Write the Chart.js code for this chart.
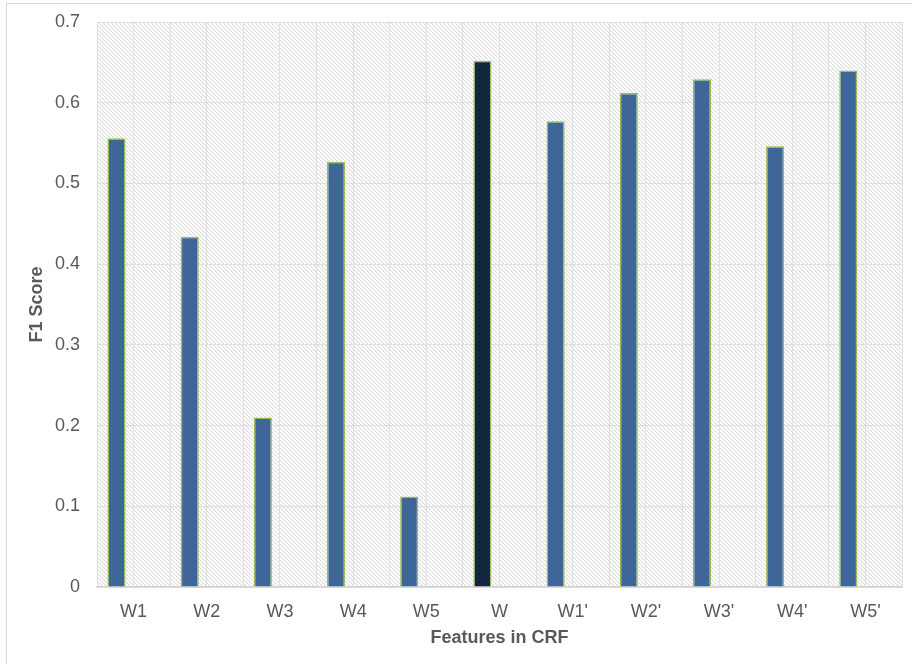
<!DOCTYPE html>
<html>
<head>
<meta charset="utf-8">
<script src="https://cdn.jsdelivr.net/npm/chart.js@4"></script>
<style>
  html, body { margin: 0; padding: 0; background: #ffffff; }
  #wrap { position: relative; width: 912px; height: 664px; overflow: hidden; }
  #frame { position: absolute; left: 6px; top: 3px; width: 1000px; height: 800px;
           border-left: 1px solid #d9d9d9; border-top: 1px solid #d9d9d9; box-sizing: border-box; }
  #c { position: absolute; left: 0; top: 0; }
</style>
</head>
<body>
<div id="wrap">
  <div id="frame"></div>
  <canvas id="c" width="912" height="664"></canvas>
</div>
<script>
// Feature sets used in the CRF and their F1 scores
const categories = ['W1', 'W2', 'W3', 'W4', 'W5', 'W', "W1'", "W2'", "W3'", "W4'", "W5'"];
const f1Scores = [0.556, 0.434, 0.210, 0.527, 0.112, 0.652, 0.577, 0.612, 0.629, 0.546, 0.640];
const yTicks = [0, 0.1, 0.2, 0.3, 0.4, 0.5, 0.6, 0.7];

const BLUE = '#3e6699';
const NAVY = '#13243f';
const barColors = categories.map(c => (c === 'W' ? NAVY : BLUE));

// Diagonal hatch fill for the plot area
function makeHatch() {
  const t = document.createElement('canvas');
  t.width = 4; t.height = 4;
  const g = t.getContext('2d');
  g.fillStyle = '#ffffff';
  g.fillRect(0, 0, 4, 4);
  g.fillStyle = '#dadada';
  for (let i = 0; i < 4; i++) g.fillRect(i, i, 1, 1);
  g.fillStyle = '#f3f3f3';
  for (let i = 0; i < 4; i++) g.fillRect((i + 1) % 4, i, 1, 1);
  return g.createPattern(t, 'repeat');
}

const hatchBackground = {
  id: 'hatchBackground',
  beforeDraw(chart) {
    const { ctx, chartArea: a } = chart;
    ctx.save();
    ctx.fillStyle = makeHatch();
    ctx.fillRect(a.left, a.top, a.right - a.left, a.bottom - a.top);
    ctx.restore();
  }
};

const TEXT = '#595959';
const GRID = '#e0e0e0';

new Chart(document.getElementById('c'), {
  type: 'bar',
  data: {
    labels: categories,
    datasets: [
      {
        label: 'F1 Score',
        data: f1Scores,
        backgroundColor: barColors,
        borderColor: '#9bbb59',
        borderWidth: 1.5,
        borderSkipped: 'bottom',
        categoryPercentage: 0.934,
        barPercentage: 0.53
      },
      {
        label: '',
        data: categories.map(() => null),
        categoryPercentage: 0.934,
        barPercentage: 0.53
      }
    ]
  },
  options: {
    responsive: false,
    animation: false,
    layout: { padding: { left: 22, top: 22, right: 10, bottom: 11 } },
    plugins: { legend: { display: false }, tooltip: { enabled: false } },
    scales: {
      x: {
        type: 'category',
        offset: true,
        grid: { offset: false, color: GRID, lineWidth: 1, drawTicks: false },
        border: { display: true, color: '#d4d4d4', width: 1.5 },
        ticks: { color: TEXT, font: { family: 'Liberation Sans', size: 18 }, padding: 14, maxRotation: 0 },
        title: { display: true, text: 'Features in CRF', color: TEXT,
                 font: { family: 'Liberation Sans', size: 18, weight: 'bold' }, padding: { top: 4, bottom: 4 } },
        afterFit(s) { s.height = 66; s.paddingLeft = 0; s.paddingRight = 0; }
      },
      xb: {
        type: 'category',
        position: 'bottom',
        offset: true,
        grid: { offset: true, color: GRID, lineWidth: 1, drawTicks: false },
        border: { display: false },
        ticks: { display: false },
        afterFit(s) { s.height = 0; }
      },
      y: {
        min: 0,
        max: 0.7,
        afterBuildTicks(s) { s.ticks = yTicks.map(v => ({ value: v })); },
        grid: { color: GRID, lineWidth: 1, drawTicks: false },
        border: { display: false },
        ticks: {
          color: TEXT, font: { family: 'Liberation Sans', size: 18 }, padding: 17,
          callback: v => (v === 0 ? '0' : v.toFixed(1))
        },
        title: { display: true, text: 'F1 Score', color: TEXT,
                 font: { family: 'Liberation Sans', size: 18, weight: 'bold' }, padding: { top: 4, bottom: 4 } },
        afterFit(s) { s.width = 75; s.paddingTop = 0; s.paddingBottom = 0; }
      }
    }
  },
  plugins: [hatchBackground]
});
</script>
</body>
</html>
